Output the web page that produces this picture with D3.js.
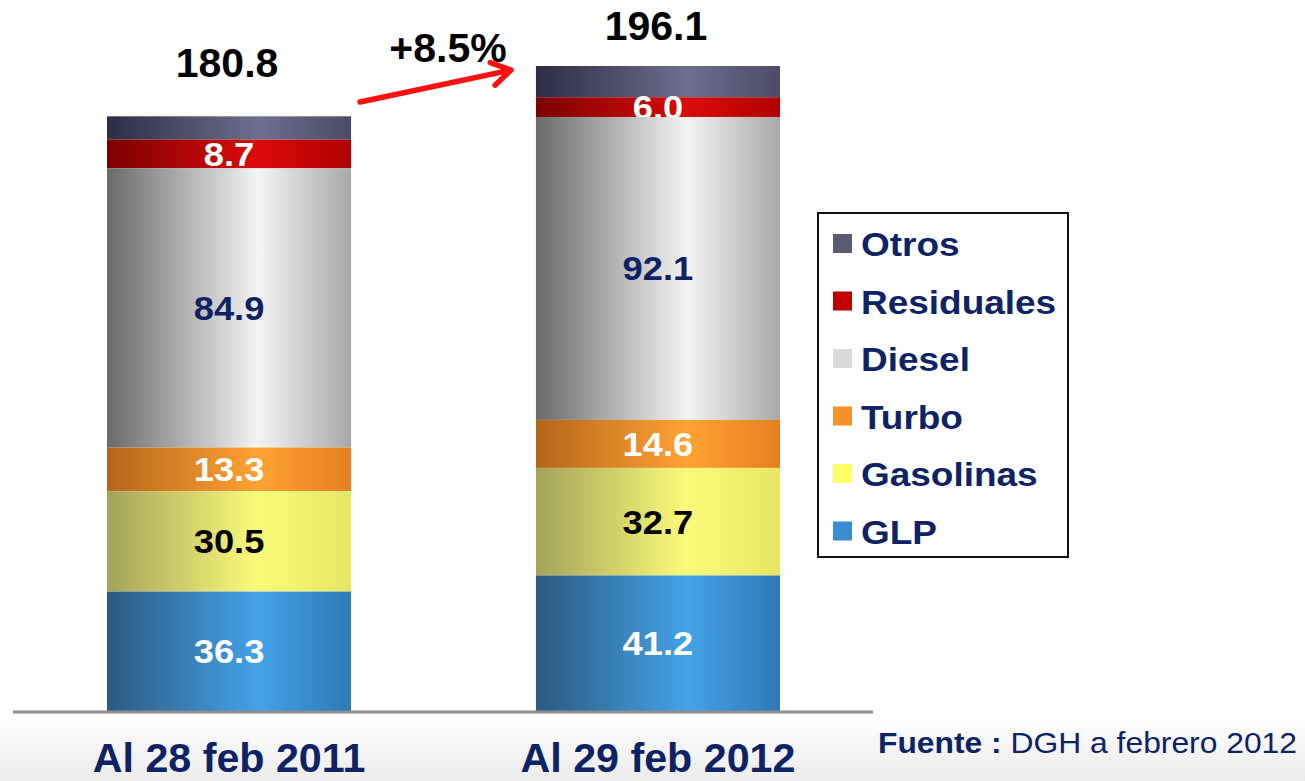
<!DOCTYPE html>
<html>
<head>
<meta charset="utf-8">
<script src="https://cdn.jsdelivr.net/npm/d3@7"></script>
<style>
  body { margin: 0; background: #fff; }
  svg { display: block; font-family: "Liberation Sans", Arial, sans-serif; }
</style>
</head>
<body>
<div id="chart"></div>
<script>
// data
const categories = ["Al 28 feb 2011", "Al 29 feb 2012"];
const seriesNames = ["GLP", "Gasolinas", "Turbo", "Diesel", "Residuales", "Otros"];
const glp = [36.3, 41.2];
const gasolinas = [30.5, 32.7];
const turbo = [13.3, 14.6];
const diesel = [84.9, 92.1];
const residuales = [8.7, 6.0];
const otros = [7.1, 9.5];
const totals = [180.8, 196.1];
const growthLabel = "+8.5%";
const sourceBold = "Fuente : ";
const sourceText = "DGH a febrero 2012";

const values = [glp, gasolinas, turbo, diesel, residuales, otros];

// [left shade, highlight, right shade, legend swatch, label colour]
const styles = {
  GLP:        ["#2c5a80", "#43a2e8", "#2f79b6", "#3a8dd0", "#ffffff"],
  Gasolinas:  ["#a3a35a", "#fbfb7a", "#e6e664", "#ffff66", "#000000"],
  Turbo:      ["#b5661c", "#ffa232", "#e57f1f", "#f7922a", "#ffffff"],
  Diesel:     ["#6a6a6a", "#f4f4f4", "#a8a8a8", "#d9d9d9", "#0d2366"],
  Residuales: ["#7c0000", "#dc0a0a", "#b00000", "#c00000", "#ffffff"],
  Otros:      ["#2d2d44", "#6e6e8e", "#4c4c68", "#5a5a74", null]
};

const W = 1305, H = 781;
const svg = d3.select("#chart").append("svg")
  .attr("width", W).attr("height", H);

const defs = svg.append("defs");

// stretch a text a bit wider, like the slide does
function widen(sel, k) {
  sel.each(function () {
    const len = this.getComputedTextLength();
    d3.select(this).attr("textLength", len * k).attr("lengthAdjust", "spacingAndGlyphs");
  });
}

// soft grey fade at the bottom of the slide
const bg = defs.append("linearGradient").attr("id", "bg")
  .attr("x1", 0).attr("y1", 0).attr("x2", 0).attr("y2", 1);
bg.append("stop").attr("offset", "0%").attr("stop-color", "#ffffff");
bg.append("stop").attr("offset", "100%").attr("stop-color", "#ececec");
svg.append("rect").attr("x", 0).attr("y", 715).attr("width", W).attr("height", H - 715)
  .attr("fill", "url(#bg)");

seriesNames.forEach((s, i) => {
  const c = styles[s];
  const g = defs.append("linearGradient").attr("id", "cyl" + i)
    .attr("x1", 0).attr("y1", 0).attr("x2", 1).attr("y2", 0);
  g.append("stop").attr("offset", "0%").attr("stop-color", c[0]);
  g.append("stop").attr("offset", "62%").attr("stop-color", c[1]);
  g.append("stop").attr("offset", "100%").attr("stop-color", c[2]);
});

const x = d3.scaleBand()
  .domain(categories)
  .range([107, 780])
  .paddingInner(0.431)
  .paddingOuter(0);

const y = d3.scaleLinear()
  .domain([0, d3.max(totals)])
  .range([711, 66]);

// build stacked data
const table = categories.map((cat, j) => {
  const row = { cat };
  seriesNames.forEach((s, i) => { row[s] = values[i][j]; });
  return row;
});
const stacked = d3.stack().keys(seriesNames)(table);

// draw from top series down so lower segments cover label overflow
const bars = svg.append("g");
for (let i = stacked.length - 1; i >= 0; i--) {
  const layer = stacked[i];
  const s = layer.key;
  const g = bars.append("g");
  layer.forEach((d) => {
    g.append("rect")
      .attr("x", x(d.data.cat))
      .attr("y", y(d[1]))
      .attr("width", x.bandwidth())
      .attr("height", y(d[0]) - y(d[1]))
      .attr("fill", "url(#cyl" + i + ")");
    if (styles[s][4]) {
      g.append("text")
        .attr("x", x(d.data.cat) + x.bandwidth() / 2)
        .attr("y", (y(d[0]) + y(d[1])) / 2)
        .attr("dy", "0.36em")
        .attr("text-anchor", "middle")
        .style("font-size", "33px")
        .style("font-weight", 700)
        .style("fill", styles[s][4])
        .text(d.data[s].toFixed(1))
        .call(widen, 1.1);
    }
  });
}

// baseline
svg.append("line")
  .attr("x1", 13).attr("x2", 873)
  .attr("y1", y(0) + 1).attr("y2", y(0) + 1)
  .attr("stroke", "#8e8e8e").attr("stroke-width", 3);

// totals
svg.selectAll(".total")
  .data(totals)
  .enter().append("text")
  .attr("x", (d, j) => x(categories[j]) + x.bandwidth() / 2 - 2)
  .attr("y", (d) => Math.max(y(d) - 39, 40))
  .attr("text-anchor", "middle")
  .style("font-size", "41px")
  .style("font-weight", 700)
  .style("fill", "#000")
  .text((d) => d.toFixed(1));

// growth arrow
svg.append("text")
  .attr("x", 448).attr("y", 62)
  .attr("text-anchor", "middle")
  .style("font-size", "41px")
  .style("font-weight", 700)
  .text(growthLabel);

const a0 = [360, 102], a1 = [511, 70];
const ang = Math.atan2(a1[1] - a0[1], a1[0] - a0[0]);
const hl = 22, spread = 0.55;
svg.append("path")
  .attr("d", `M${a0[0]},${a0[1]} L${a1[0]},${a1[1]}` +
    ` M${a1[0] - hl * Math.cos(ang - spread)},${a1[1] - hl * Math.sin(ang - spread)}` +
    ` L${a1[0]},${a1[1]}` +
    ` L${a1[0] - hl * Math.cos(ang + spread)},${a1[1] - hl * Math.sin(ang + spread)}`)
  .attr("fill", "none")
  .attr("stroke", "#ff1010")
  .attr("stroke-width", 5.5)
  .attr("stroke-linecap", "round")
  .attr("stroke-linejoin", "round");

// category labels
svg.selectAll(".cat")
  .data(categories)
  .enter().append("text")
  .attr("x", (d) => x(d) + x.bandwidth() / 2)
  .attr("y", 772)
  .attr("text-anchor", "middle")
  .style("font-size", "40px")
  .style("font-weight", 700)
  .style("fill", "#0d2366")
  .text((d) => d)
  .call(widen, 1.03);

// legend
const legend = svg.append("g");
legend.append("rect")
  .attr("x", 818).attr("y", 213).attr("width", 250).attr("height", 344)
  .attr("fill", "#fff").attr("stroke", "#111").attr("stroke-width", 2);

const legendOrder = seriesNames.slice().reverse();
const item = legend.selectAll(".item")
  .data(legendOrder)
  .enter().append("g")
  .attr("transform", (d, i) => `translate(833, ${256 + i * 57.5})`);
item.append("rect")
  .attr("x", 0).attr("y", -22)
  .attr("width", 19).attr("height", 19)
  .attr("fill", (d) => styles[d][3]);
item.append("text")
  .attr("x", 28).attr("y", 0)
  .style("font-size", "33px")
  .style("font-weight", 700)
  .style("fill", "#0d2366")
  .text((d) => d)
  .call(widen, 1.12);

// source note
const src = svg.append("text")
  .attr("x", 878).attr("y", 753)
  .style("font-size", "29px")
  .style("fill", "#0d2366")
  .attr("textLength", 419)
  .attr("lengthAdjust", "spacingAndGlyphs");
src.append("tspan").style("font-weight", 700).text(sourceBold);
src.append("tspan").text(sourceText);
</script>
</body>
</html>
